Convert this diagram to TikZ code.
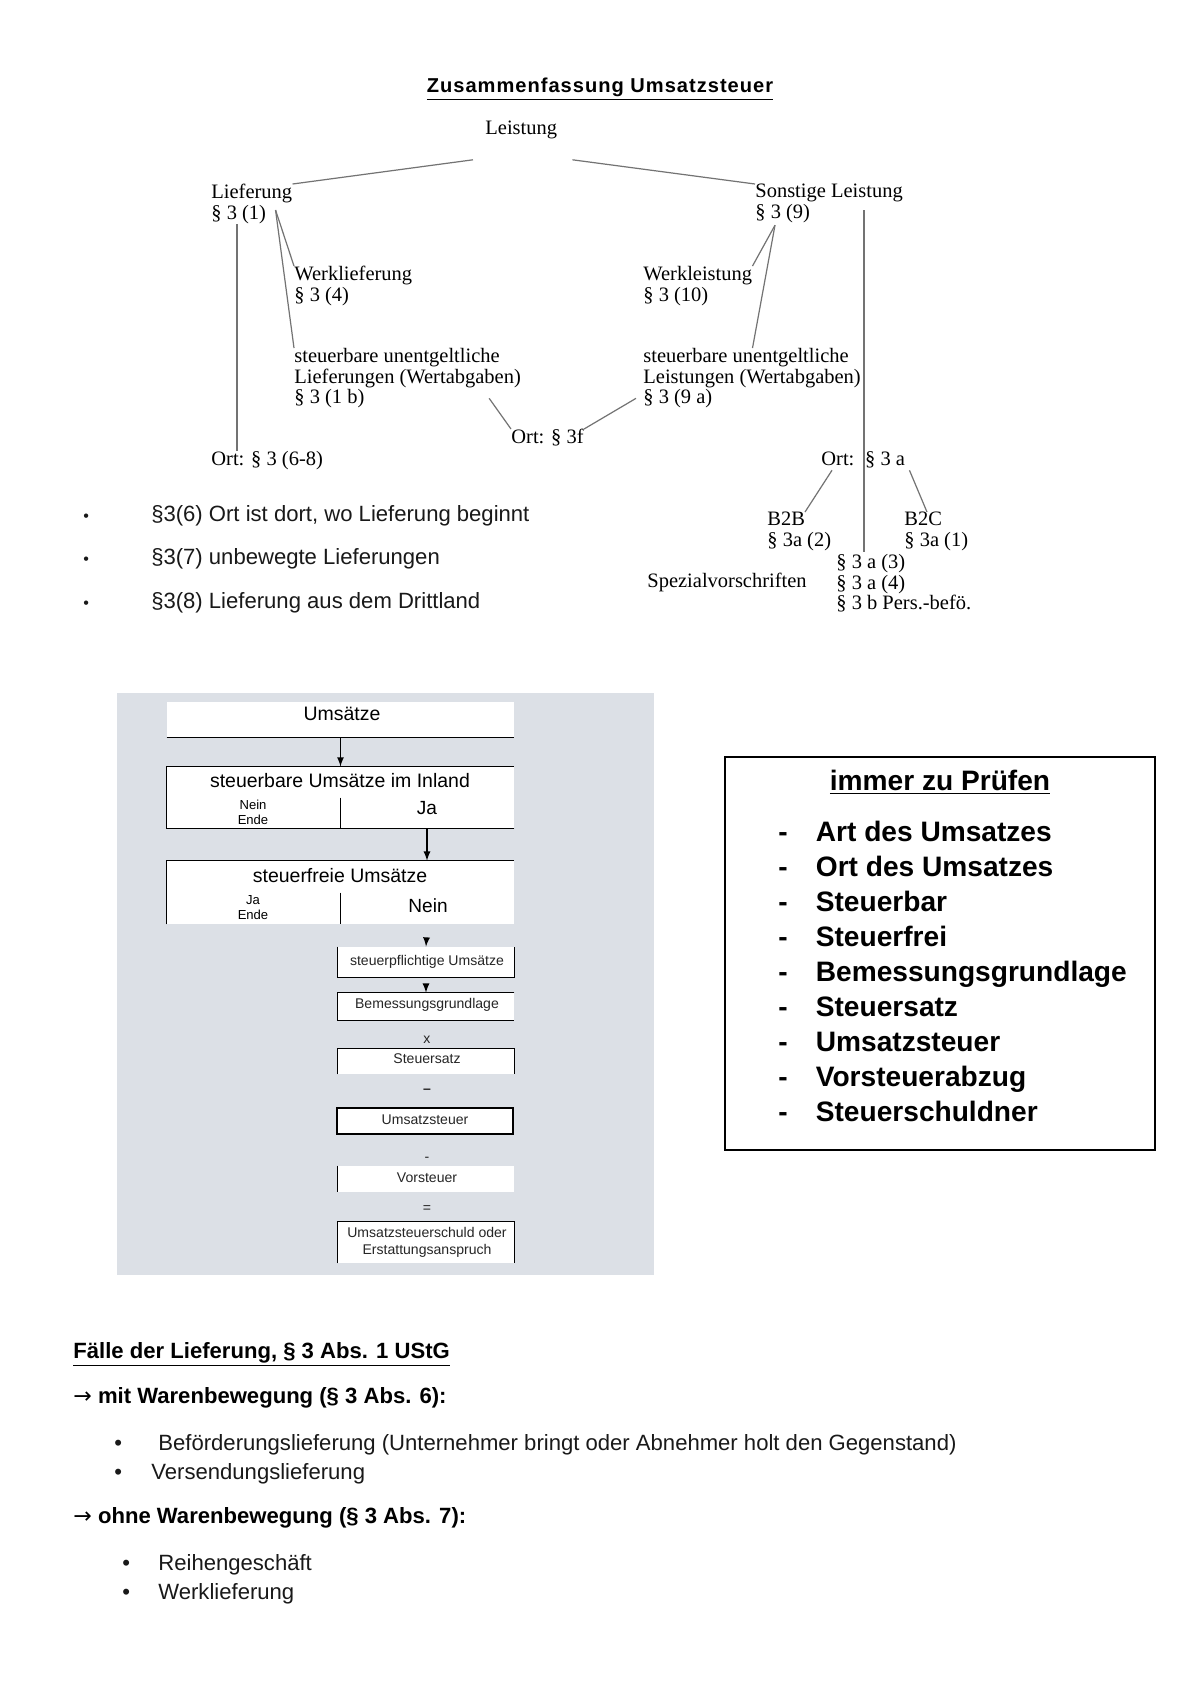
\documentclass[tikz,border=0pt]{standalone}
\usepackage{fontspec}
\setmainfont{Liberation Sans}
\newfontfamily\treefont{Liberation Serif}
\newfontfamily\pfeilfont{DejaVu Sans}
\usepackage{xcolor}
\usetikzlibrary{positioning}
\definecolor{panel}{RGB}{220,224,230}
\tikzset{every node/.style={inner sep=0pt},
	tree/.style={
		font=\treefont\fontsize{10.2}{10.2}\selectfont,
		align=left, anchor=north west},
	tline/.style={draw=black!55, line width=0.6pt},
	txt/.style={font=\fontsize{11}{13}\selectfont, anchor=base west, text=black!90},
	btxt/.style={font=\bfseries\fontsize{11}{13}\selectfont, anchor=base west},
	fbox/.style={fill=white, minimum width=6.07cm},
	sbox/.style={fill=white, minimum width=3.08cm},
	frame/.style={line width=0.8pt},
	ftext/.style={font=\fontsize{9.7}{11}\selectfont, anchor=base},
	stext/.style={font=\fontsize{7}{8.4}\selectfont, anchor=base, text=black!85},
	ntext/.style={font=\fontsize{6.5}{7.4}\selectfont, align=center, anchor=north},
	fcarrow/.style={-latex, line width=0.6pt}
}

\begin{document}
\begin{tikzpicture}[x=0.0175cm, y=-0.0175cm]
	\useasboundingbox (0,0) rectangle (1200,1698);
	\fill[white] (0,0) rectangle (1200,1698);
	
	\node[font=\bfseries\fontsize{10}{12}\selectfont\addfontfeatures{LetterSpace=5}, anchor=base] (titel) at (600,92) {\underline{Zusammenfassung Umsatzsteuer}};
	
	% Baum
	\node[tree] (leist) at (485,121) {Leistung};
	\node[tree] (lief) at (211,184) {Lieferung\\§ 3 (1)};
	\node[tree] (sonst) at (755,184) {Sonstige Leistung\\§ 3 (9)};
	\node[tree] (werkl) at (294,266) {Werklieferung\\§ 3 (4)};
	\node[tree] (werkls) at (643,266) {Werkleistung\\§ 3 (10)};
	\node[tree] (unentl) at (294,348) {steuerbare unentgeltliche\\Lieferungen (Wertabgaben)\\§ 3 (1 b)};
	\node[tree] (unentls) at (643,348) {steuerbare unentgeltliche\\Leistungen (Wertabgaben)\\§ 3 (9 a)};
	\node[tree] (ort3f) at (511,429) {Ort: § 3f};
	\node[tree] (ortlief) at (211,451) {Ort: § 3 (6-8)};
	\node[tree] (ortsonst) at (821,451) {Ort:\hspace{2pt} § 3 a};
	\node[tree] (b2b) at (767,512) {B2B\\§ 3a (2)};
	\node[tree] (b2c) at (904,512) {B2C\\§ 3a (1)};
	\node[tree] (spez3a) at (836,554) {§ 3 a (3)\\§ 3 a (4)\\§ 3 b Pers.-befö.};
	\node[tree] (spez) at (647,573) {Spezialvorschriften};
	
	\draw[tline] ([shift={(-12,20)}]leist.south west) -- (lief.north east);
	\draw[tline] ([shift={(15,20)}]leist.south east) -- (sonst.north west);
	\draw[tline] ([shift={(-17,6)}]lief.east) -- (werkl.north west);
	\draw[tline] ([shift={(-17,6)}]lief.east) -- (unentl.north west);
	\draw[tline] ([shift={(26,0)}]lief.south west) -- ([shift={(26,0)}]ortlief.north west);
	\draw[tline] ([shift={(20,2)}]sonst.south west) -- (werkls.north east);
	\draw[tline] ([shift={(20,2)}]sonst.south west) -- (werkls.east |- unentls.north);
	\draw[tline] ([shift={(-32,-10)}]unentl.south east) -- (ort3f.north west);
	\draw[tline] ([shift={(-7,-10)}]unentls.south west) -- (ort3f.north east);
	\draw[tline] ([shift={(109,-13)}]sonst.south west) -- ([shift={(28,-2)}]spez3a.north west);
	\draw[tline] ([shift={(11,2)}]ortsonst.south west) -- ([shift={(38,0)}]b2b.north west);
	\draw[tline] ([shift={(4,2)}]ortsonst.south east) -- ([shift={(23,0)}]b2c.north west);
	
	\node[font=\fontsize{11}{21.8}\selectfont, anchor=north west, text=black!90] (ortliste) at (83,490) {\begin{tabular}{@{}l@{\hspace{31pt}}l@{}}
		{\fontsize{8}{8}\selectfont\textbullet} & §3(6) Ort ist dort, wo Lieferung beginnt\\
		{\fontsize{8}{8}\selectfont\textbullet} & §3(7) unbewegte Lieferungen\\
		{\fontsize{8}{8}\selectfont\textbullet} & §3(8) Lieferung aus dem Drittland
	\end{tabular}};
	
	% Schema
	\fill[panel] (117,693) rectangle (654,1275);
	\node[fbox, minimum height=0.61cm] (ums) at (340.5,719.5) {};
	\draw[frame] (ums.south west) -- (ums.south east);
	\node[ftext] (umstxt) at (342,720) {Umsätze};
	
	\node[fbox, minimum height=1.07cm] (stbar) at (340.5,797.5) {};
	\draw[frame] (stbar.south east) -- (stbar.south west) -- (stbar.north west) -- (stbar.north east);
	\draw[frame] (stbar.center) -- (stbar.south);
	\node[ftext] (stbartxt) at (340,787) {steuerbare Umsätze im Inland};
	\node[ntext] (stbarnein) at (253,799.5) {Nein\\Ende};
	\node[ftext, font=\fontsize{9.5}{11}\selectfont] (stbarja) at (427,814) {Ja};
	
	\node[fbox, minimum height=1.1cm] (frei) at (340.5,892.5) {};
	\draw[frame] (frei.south west) -- (frei.north west) -- (frei.north east);
	\draw[frame] (frei.center) -- (frei.south);
	\node[ftext] (freitxt) at (340,882) {steuerfreie Umsätze};
	\node[ntext] (freija) at (253,895.5) {Ja\\Ende};
	\node[ftext, font=\fontsize{9.5}{11}\selectfont] (freinein) at (428,912) {Nein};
	
	\node[sbox, minimum height=0.525cm] (pflicht) at (426,962) {};
	\draw[frame] (pflicht.north west) -- (pflicht.south west) -- (pflicht.south east) -- (pflicht.north east);
	\node[stext] (pflichttxt) at (427,965) {steuerpflichtige Umsätze};
	
	\node[sbox, minimum height=0.4725cm] (bem) at (426,1006.5) {};
	\draw[frame] (bem.north east) -- (bem.north west) -- (bem.south west) -- (bem.south east);
	\node[stext] (bemtxt) at (427,1008) {Bemessungsgrundlage};
	\node[stext] (mal) at (427,1043) {x};
	
	\node[sbox, minimum height=0.4375cm] (satz) at (426,1061.5) {};
	\draw[frame] (satz.south west) -- (satz.north west) -- (satz.north east) -- (satz.south east);
	\node[stext] (satztxt) at (427,1063) {Steuersatz};
	\node[stext] (minus) at (427,1093) {\textbf{–}};
	
	\node[sbox, minimum height=0.455cm, draw, frame] (ust) at (425,1121) {};
	\node[stext] (usttxt) at (425,1124) {Umsatzsteuer};
	\node[stext] (abzug) at (427,1161) {-};
	
	\node[sbox, minimum height=0.455cm] (vst) at (426,1179) {};
	\draw[frame] (vst.north west) -- (vst.south west);
	\node[stext] (vsttxt) at (427,1182) {Vorsteuer};
	\node[stext] (gleich) at (427,1212) {=};
	
	\node[sbox, minimum height=0.7175cm] (schuld) at (426,1242.5) {};
	\draw[frame] (schuld.south west) -- (schuld.north west) -- (schuld.north east) -- (schuld.south east);
	\node[stext, align=center, anchor=north] (schuldtxt) at (427,1227) {Umsatzsteuerschuld oder\\Erstattungsanspruch};
	
	\draw[fcarrow] (ums.south) -- (stbar.north);
	\draw[fcarrow] (stbarja |- stbar.south) -- (stbarja |- frei.north);
	\draw[fcarrow, shorten <=0.46cm] (freinein.south) -- (pflicht.north);
	\draw[fcarrow, shorten <=0.13cm] (pflicht.south) -- (bem.north);
	
	% immer zu Pruefen
	\draw[line width=1.2pt] (725,757) rectangle (1155,1150);
	\node[font=\bfseries\fontsize{14}{17}\selectfont, anchor=base] (immer) at (940,790) {\underline{immer zu Prüfen}};
	\node[font=\bfseries\fontsize{14}{17.4}\selectfont, anchor=north west] (pruefliste) at (778,817) {\begin{tabular}{@{}l@{\hspace{14pt}}l@{}}
		- & Art des Umsatzes\\
		- & Ort des Umsatzes\\
		- & Steuerbar\\
		- & Steuerfrei\\
		- & Bemessungsgrundlage\\
		- & Steuersatz\\
		- & Umsatzsteuer\\
		- & Vorsteuerabzug\\
		- & Steuerschuldner
	\end{tabular}};
	
	% Faelle der Lieferung
	\node[btxt] (faelle) at (73,1358) {\underline{Fälle der Lieferung, § 3 Abs. 1 UStG}};
	\node[btxt] (mit) at (73,1403) {{\pfeilfont\mdseries →} mit Warenbewegung (§ 3 Abs. 6):};
	\node[txt] (bul1) at (114,1450) {\textbullet};
	\node[txt] (befoerd) at (158,1450) {Beförderungslieferung (Unternehmer bringt oder Abnehmer holt den Gegenstand)};
	\node[txt] (bul2) at (114,1479) {\textbullet};
	\node[txt] (versend) at (151,1479) {Versendungslieferung};
	\node[btxt] (ohne) at (73,1523) {{\pfeilfont\mdseries →} ohne Warenbewegung (§ 3 Abs. 7):};
	\node[txt] (bul3) at (122,1570) {\textbullet};
	\node[txt] (reihe) at (158,1570) {Reihengeschäft};
	\node[txt] (bul4) at (122,1599) {\textbullet};
	\node[txt] (werk) at (158,1599) {Werklieferung};
\end{tikzpicture}
\end{document}
